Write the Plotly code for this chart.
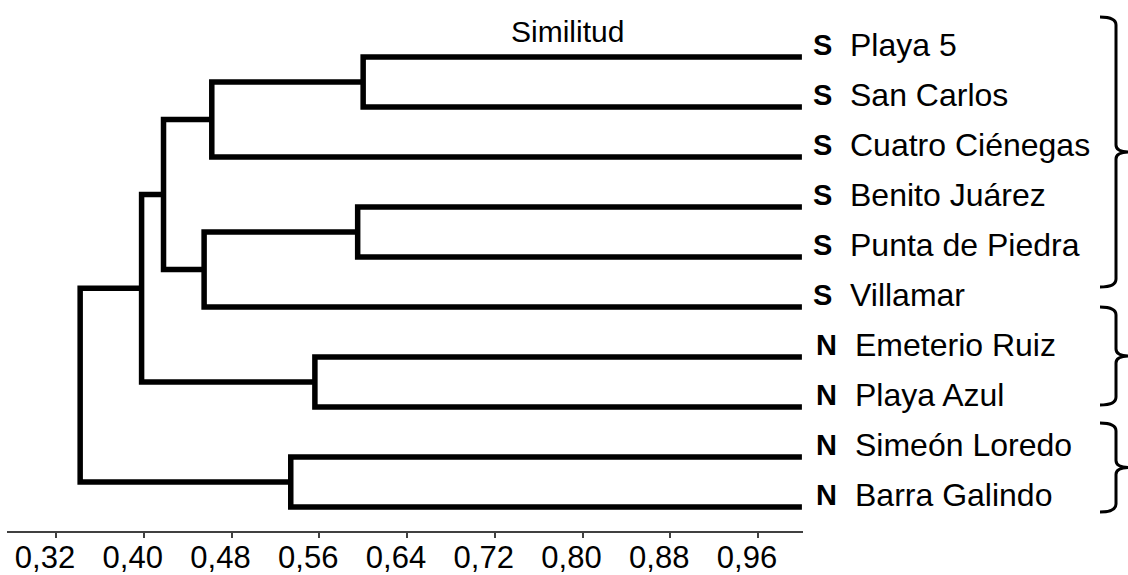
import plotly.graph_objects as go

# ---------------- data ----------------
leaf_names = ["Playa 5", "San Carlos", "Cuatro Ciénegas", "Benito Juárez",
              "Punta de Piedra", "Villamar", "Emeterio Ruiz", "Playa Azul",
              "Simeón Loredo", "Barra Galindo"]
leaf_region = ["S", "S", "S", "S", "S", "S", "N", "N", "N", "N"]
leaf_similarity = 1.0

# merges: (child_a, child_b, similarity) ; new node ids start at len(leaf_names)
merge_a = [0, 3, 6, 8, 10, 11, 14, 16, 17]
merge_b = [1, 4, 7, 9, 2, 5, 15, 12, 13]
merge_sim = [0.600, 0.595, 0.556, 0.534, 0.462, 0.455, 0.418, 0.398, 0.342]

tick_vals = [0.32, 0.40, 0.48, 0.56, 0.64, 0.72, 0.80, 0.88, 0.96]
tick_text = ["0,32", "0,40", "0,48", "0,56", "0,64", "0,72", "0,80", "0,88", "0,96"]

# group braces (start/end in leaf-index units)
brace_start = [-0.80, 5.00, 7.32]
brace_end = [4.60, 6.96, 9.10]

axis_title = "Similitud"

# ---------------- build dendrogram ----------------
n = len(leaf_names)
node_x = {i: leaf_similarity for i in range(n)}
node_y = {i: float(i) for i in range(n)}
xs, ys = [], []
for k, (a, b, s) in enumerate(zip(merge_a, merge_b, merge_sim)):
    xs += [node_x[a], s, s, node_x[b], None]
    ys += [node_y[a], node_y[a], node_y[b], node_y[b], None]
    node_x[n + k] = s
    node_y[n + k] = (node_y[a] + node_y[b]) / 2

W, H = 1128, 575
ML, MR, MT, MB = 7, 325, 0, 44
x_range = [0.2753, 1.001]
y_top, y_bot = -1.14, 9.48

fig = go.Figure()
fig.add_trace(go.Scatter(
    x=xs, y=ys, mode="lines",
    line=dict(color="black", width=5.5),
    hoverinfo="skip", showlegend=False, cliponaxis=False,
))

FONT = "Arial, 'Liberation Sans', sans-serif"

annotations = []
for i, (nm, rg) in enumerate(zip(leaf_names, leaf_region)):
    annotations.append(dict(
        x=leaf_similarity, y=i, xref="x", yref="y",
        text="<b>%s</b>" % rg, showarrow=False,
        xanchor="left", yanchor="middle", xshift=9 if rg == "S" else 12, yshift=12,
        font=dict(family=FONT, size=29, color="black"),
    ))
    annotations.append(dict(
        x=leaf_similarity, y=i, xref="x", yref="y",
        text=nm, showarrow=False,
        xanchor="left", yanchor="middle", xshift=46 if rg == "S" else 51, yshift=12,
        font=dict(family=FONT, size=32, color="black"),
    ))

plot_w = W - ML - MR
plot_h = H - MT - MB


def px_to_paper_x(px):
    return (px - ML) / plot_w


def y_to_paper(y):
    return (y_bot - y) / (y_bot - y_top)


annotations.append(dict(
    x=px_to_paper_x(567), y=1 - (32 - MT) / plot_h, xref="paper", yref="paper",
    text=axis_title, showarrow=False, xanchor="center", yanchor="middle",
    font=dict(family=FONT, size=30, color="black"),
))

shapes = []
xv = px_to_paper_x(1116)
xl = px_to_paper_x(1100)
xt = px_to_paper_x(1130)
hook = 8 / plot_h
tip = 7 / plot_h
for s, e in zip(brace_start, brace_end):
    yt = y_to_paper(s)
    yb = y_to_paper(e)
    ym = (yt + yb) / 2
    path = (f"M {xl},{yt} Q {xv},{yt} {xv},{yt - hook} "
            f"L {xv},{ym + tip} Q {xv},{ym} {xt},{ym} "
            f"Q {xv},{ym} {xv},{ym - tip} "
            f"L {xv},{yb + hook} Q {xv},{yb} {xl},{yb}")
    shapes.append(dict(type="path", path=path, xref="paper", yref="paper",
                       line=dict(color="black", width=3)))

fig.update_layout(
    width=W, height=H,
    margin=dict(l=ML, r=MR, t=MT, b=MB, autoexpand=False),
    paper_bgcolor="white", plot_bgcolor="white",
    xaxis=dict(
        range=x_range, tickvals=tick_vals, ticktext=tick_text,
        showgrid=False, zeroline=False, showline=True,
        linecolor="#404040", linewidth=2,
        ticks="outside", ticklen=5, tickwidth=1.5, tickcolor="#404040",
        tickfont=dict(family=FONT, size=31, color="black"),
        ticklabelshift=-11, ticklabelstandoff=-7,
        automargin=False, fixedrange=True,
    ),
    yaxis=dict(
        range=[y_bot, y_top], visible=False, showgrid=False,
        zeroline=False, automargin=False, fixedrange=True,
    ),
    annotations=annotations,
    shapes=shapes,
    showlegend=False,
)

fig.write_html(
    "out.html",
    config={"displayModeBar": False},
    post_script="document.body.style.margin='0';document.body.style.overflow='hidden';",
)
